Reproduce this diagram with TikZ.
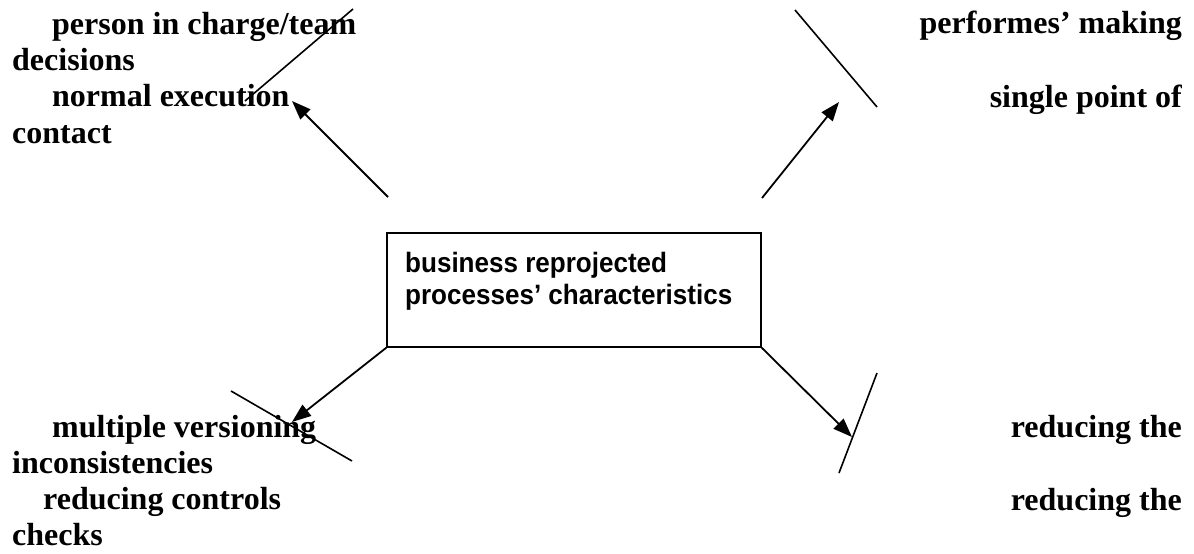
\documentclass[tikz,border=0pt]{standalone}
\usepackage{fontspec}
\setmainfont{Liberation Serif}
\newfontfamily\boxfont[FakeStretch=0.93]{Liberation Sans}
\usetikzlibrary{arrows.meta}

\tikzset{
    lbl/.style={font=\fontsize{32}{37}\selectfont\bfseries, inner sep=0pt},
    boxlbl/.style={font=\boxfont\fontsize{28}{32}\selectfont\bfseries, align=left, inner sep=0pt},
    link/.style={line width=1.8pt, -{Triangle[length=19pt,width=14pt]}},
    strike/.style={line width=1.6pt}
}

\begin{document}
\begin{tikzpicture}[x=1pt,y=-1pt]
        \useasboundingbox (0,0) rectangle (1194,554);

        % Centre box
        \node[draw, line width=1.6pt, minimum width=374pt, minimum height=114pt, inner sep=0pt] (box) at (574,290) {};
        \node[boxlbl, anchor=base west] (boxtext) at (405,304) {business reprojected\\processes’ characteristics};

        % Labels
        \node[lbl, anchor=base west] (tl1) at (52,34) {person in charge/team};
        \node[lbl, anchor=base west] (tl2) at (12,70) {decisions};
        \node[lbl, anchor=base west] (tl3) at (52,106) {normal execution};
        \node[lbl, anchor=base west] (tl4) at (12,143) {contact};
        \node[lbl, anchor=base east] (tr1) at (1182,33) {performes’ making};
        \node[lbl, anchor=base east] (tr2) at (1182,107) {single point of};
        \node[lbl, anchor=base west] (bl1) at (52,437) {multiple versioning};
        \node[lbl, anchor=base west] (bl2) at (12,473) {inconsistencies};
        \node[lbl, anchor=base west] (bl3) at (43,509) {reducing controls};
        \node[lbl, anchor=base west] (bl4) at (12,545) {checks};
        \node[lbl, anchor=base east] (br1) at (1182,437) {reducing the};
        \node[lbl, anchor=base east] (br2) at (1182,510) {reducing the};

        % Arrow ends
        \coordinate (tlfrom) at (388,197);
        \coordinate (tlto) at (292,101);
        \coordinate (trfrom) at (762,198);
        \coordinate (trto) at (839,102);
        \coordinate (blto) at (292,422);
        \coordinate (brto) at (852,437);

        % Arrows
        \draw[link] (tlfrom) -- (tlto);
        \draw[link] (trfrom) -- (trto);
        \draw[link] (box.south west) -- (blto);
        \draw[link] (box.south east) -- (brto);

        % Crossing strokes
        \coordinate (tla) at (353,9);   \coordinate (tlb) at (245,101);
        \coordinate (tra) at (795,10);  \coordinate (trb) at (877,107);
        \coordinate (bla) at (231,391); \coordinate (blb) at (352,461);
        \coordinate (bra) at (877,373); \coordinate (brb) at (839,473);
        \draw[strike] (tla) -- (tlb);
        \draw[strike] (tra) -- (trb);
        \draw[strike] (bla) -- (blb);
        \draw[strike] (bra) -- (brb);
\end{tikzpicture}
\end{document}
